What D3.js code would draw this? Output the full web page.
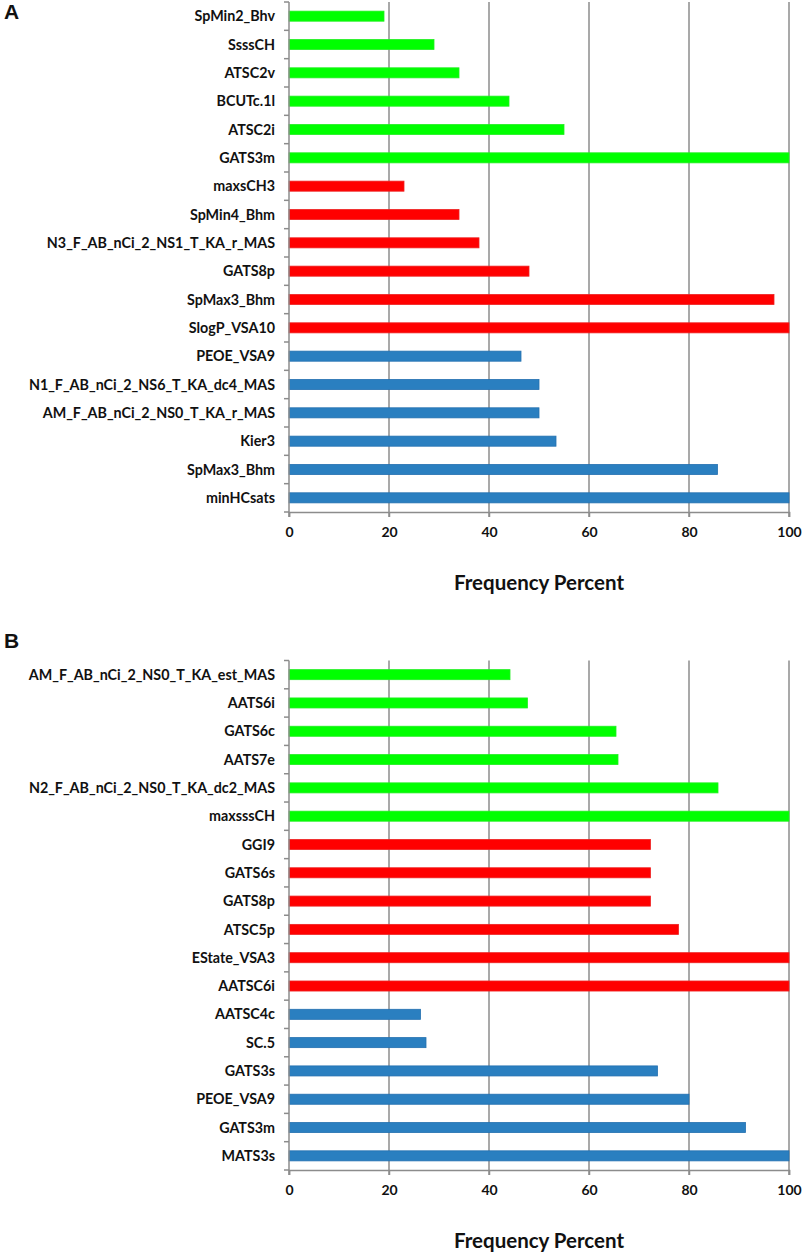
<!DOCTYPE html>
<html>
<head>
<meta charset="utf-8">
<script src="https://cdn.jsdelivr.net/npm/d3@7"></script>
<style>
  html, body { margin: 0; padding: 0; background: #fff; }
  svg { display: block; }
  text { font-family: Lato, "Open Sans", sans-serif; font-weight: bold; fill: #111; }
</style>
</head>
<body>
<svg id="chart" width="803" height="1254"></svg>
<script>
// ── Data ────────────────────────────────────────────────────────────────────
// Panel A, top to bottom
const catsA = [
  "SpMin2_Bhv", "SsssCH", "ATSC2v", "BCUTc.1l", "ATSC2i", "GATS3m",
  "maxsCH3", "SpMin4_Bhm", "N3_F_AB_nCi_2_NS1_T_KA_r_MAS", "GATS8p", "SpMax3_Bhm", "SlogP_VSA10",
  "PEOE_VSA9", "N1_F_AB_nCi_2_NS6_T_KA_dc4_MAS", "AM_F_AB_nCi_2_NS0_T_KA_r_MAS", "Kier3", "SpMax3_Bhm", "minHCsats",
];
const valuesA = [19, 29, 34, 44, 55, 100, 23, 34, 38, 48, 97, 100, 46.4, 50, 50, 53.4, 85.7, 100];

// Panel B, top to bottom
const catsB = [
  "AM_F_AB_nCi_2_NS0_T_KA_est_MAS", "AATS6i", "GATS6c", "AATS7e", "N2_F_AB_nCi_2_NS0_T_KA_dc2_MAS", "maxsssCH",
  "GGI9", "GATS6s", "GATS8p", "ATSC5p", "EState_VSA3", "AATSC6i",
  "AATSC4c", "SC.5", "GATS3s", "PEOE_VSA9", "GATS3m", "MATS3s",
];
const valuesB = [44.2, 47.7, 65.4, 65.8, 85.8, 100, 72.3, 72.3, 72.3, 77.9, 100, 100, 26.3, 27.4, 73.7, 80, 91.3, 100];

// group of each bar (same layout in both panels)
const groups = ["g","g","g","g","g","g","r","r","r","r","r","r","b","b","b","b","b","b"];
const xTicks = [0, 20, 40, 60, 80, 100];

const fills   = { g: "#00ff00", r: "#ff0000", b: "#2a7fc0" };
const strokes = { g: "#22ee22", r: "#ee2222", b: "#2370b0" };

// ── Layout ──────────────────────────────────────────────────────────────────
const svg = d3.select("#chart");
const x = d3.scaleLinear().domain([0, 100]).range([289, 789]);

function drawPanel(letter, letterY, cats, values, top, bottom) {
  const g = svg.append("g");

  g.append("text")
    .attr("x", 4).attr("y", letterY)
    .style("font-family", "Arial, 'Liberation Sans', sans-serif")
    .style("font-size", "21px")
    .text(letter);

  const y = d3.scaleBand().domain(d3.range(cats.length)).range([top, bottom])
    .paddingInner(0.645).paddingOuter(0.3225);

  // vertical gridlines
  g.selectAll("line.grid")
    .data(xTicks.slice(1))
    .join("line")
    .attr("class", "grid")
    .attr("x1", d => x(d)).attr("x2", d => x(d))
    .attr("y1", top).attr("y2", bottom + 5)
    .attr("stroke", "#8c8c8c").attr("stroke-width", 1.5);

  // bars
  g.selectAll("rect.bar")
    .data(values)
    .join("rect")
    .attr("class", "bar")
    .attr("x", x(0))
    .attr("y", (d, i) => y(i))
    .attr("width", d => x(d) - x(0))
    .attr("height", y.bandwidth())
    .attr("fill", (d, i) => fills[groups[i]])
    .attr("stroke", (d, i) => strokes[groups[i]])
    .attr("stroke-width", 0.8);

  // y axis: category boundaries as ticks
  const step = y.step();
  g.append("line")
    .attr("x1", x(0)).attr("x2", x(0)).attr("y1", top).attr("y2", bottom + 5)
    .attr("stroke", "#8c8c8c").attr("stroke-width", 1.5);
  g.selectAll("line.ytick")
    .data(d3.range(cats.length + 1))
    .join("line")
    .attr("class", "ytick")
    .attr("x1", x(0) - 5).attr("x2", x(0))
    .attr("y1", i => top + i * step).attr("y2", i => top + i * step)
    .attr("stroke", "#8c8c8c").attr("stroke-width", 1.5);

  g.selectAll("text.ylab")
    .data(cats)
    .join("text")
    .attr("class", "ylab")
    .attr("x", x(0) - 14)
    .attr("y", (d, i) => y(i) + y.bandwidth() / 2)
    .attr("dy", "0.36em")
    .attr("text-anchor", "end")
    .style("font-size", "14.3px")
    .text(d => d);

  // x axis
  const xAxis = g.append("g")
    .attr("transform", `translate(0,${bottom})`)
    .call(d3.axisBottom(x).tickValues(xTicks).tickSize(5).tickPadding(10));
  xAxis.select(".domain").attr("stroke", "#8c8c8c").attr("stroke-width", 1.5);
  xAxis.selectAll(".tick line").attr("stroke", "#8c8c8c").attr("stroke-width", 1.5);
  xAxis.selectAll(".tick text")
    .style("font-family", "Lato, 'Open Sans', sans-serif")
    .style("font-weight", "bold")
    .style("font-size", "14px")
    .attr("fill", "#111");

  g.append("text")
    .attr("x", (x(0) + x(100)) / 2)
    .attr("y", bottom + 78)
    .attr("text-anchor", "middle")
    .style("font-size", "20.5px")
    .text("Frequency Percent");
}

drawPanel("A", 19, catsA, valuesA, 2, 512);
drawPanel("B", 648, catsB, valuesB, 660.5, 1170);
</script>
</body>
</html>
